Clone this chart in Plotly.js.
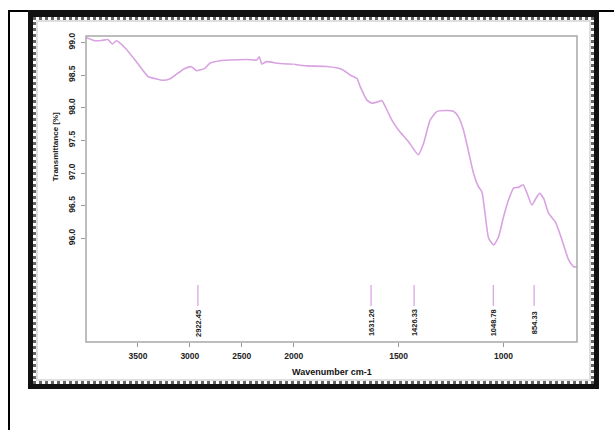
<!DOCTYPE html>
<html>
<head>
<meta charset="utf-8">
<script src="https://cdn.plot.ly/plotly-3.0.1.min.js"></script>
<style>
  html, body { margin: 0; padding: 0; background: #fff; width: 614px; height: 430px; overflow: hidden; }
  .box { position: absolute; box-sizing: border-box; }
  #outer { left: 8px; top: 10px; width: 606px; height: 420px; border-left: 2px solid #000; border-top: 2px solid #000; }
  #frame { left: 28px; top: 10px; width: 571px; height: 379px; border: 5px solid #111; border-top-width: 7px; }
  #dots { left: 33px; top: 17px; width: 561px; height: 367px; border: 3px dotted #666; }
  #shade { left: 36px; top: 20px; width: 555px; height: 361px; border: 2px solid #dedede; }
  #chart { position: absolute; left: 0; top: 0; width: 614px; height: 430px; }
</style>
</head>
<body>
<div class="box" id="outer"></div>
<div class="box" id="frame"></div>
<div class="box" id="dots"></div>
<div class="box" id="shade"></div>
<div id="chart"></div>
<script>
// Wavenumber (cm-1) and transmittance (%)
const wavenumber = [4000,3918,3850,3790,3747,3708,3677,3612,3515,3403,3322,3258,3194,3145,3049,2984,2936,2904,2856,2807,2711,2614,2453,2356,2331,2308,2260,2150,2000,
  1938,1843,1771,1731,1699,1684,1652,1628,1598,1580,1564,1532,1501,1453,1406,1381,1350,1318,1278,1239,1215,1191,1167,1143,1121,1103,1090,1071,1047,1024,1000,
  976,952,928,907,888,865,844,828,809,785,753,721,690,666,650];
const transmittance = [99.075,99.026,99.03,99.044,98.975,99.026,98.995,98.894,98.704,98.478,98.44,98.42,98.44,98.493,98.60,98.628,98.567,98.577,98.603,98.68,98.72,98.73,98.738,98.73,98.78,98.67,98.705,98.68,98.665,
  98.64,98.63,98.59,98.50,98.45,98.33,98.12,98.07,98.09,98.11,98.02,97.81,97.66,97.48,97.28,97.455,97.81,97.94,97.957,97.946,97.86,97.66,97.33,96.995,96.80,96.71,96.43,96.0,95.90,96.02,96.33,
  96.59,96.77,96.78,96.82,96.69,96.51,96.62,96.69,96.61,96.38,96.25,95.97,95.67,95.565,95.565];

// Peak labels
const peaks = [2922.45, 1631.26, 1426.33, 1048.78, 854.33];
const peakLabels = ["2922.45", "1631.26", "1426.33", "1048.78", "854.33"];

// Axis ticks
const xTicksHigh = [3500, 3000, 2500, 2000];
const xTicksLow = [1500, 1000];
const yTicks = [96.0, 96.5, 97.0, 97.5, 98.0, 98.5, 99.0];
const yTickText = ["96.0", "96.5", "97.0", "97.5", "98.0", "98.5", "99.0"];

const xTitle = "Wavenumber cm-1";
const yTitle = "Transmittance [%]";

const BREAK = 2000;
const hi = { x: [], y: [] }, lo = { x: [], y: [] };
wavenumber.forEach((w, i) => {
  if (w >= BREAK) { hi.x.push(w); hi.y.push(transmittance[i]); }
  if (w <= BREAK) { lo.x.push(w); lo.y.push(transmittance[i]); }
});

const lineStyle = { color: '#d9a2e2', width: 1.6, shape: 'spline', smoothing: 0.5 };
const traces = [
  { x: hi.x, y: hi.y, type: 'scatter', mode: 'lines', line: lineStyle, xaxis: 'x', yaxis: 'y', hoverinfo: 'skip' },
  { x: lo.x, y: lo.y, type: 'scatter', mode: 'lines', line: lineStyle, xaxis: 'x2', yaxis: 'y', hoverinfo: 'skip' }
];

const SPLIT = 0.423;
const FONT = 'Liberation Sans, Arial, sans-serif';
const tickFont = { family: FONT, size: 8.5, color: '#222', weight: 'bold' };

const shapes = [
  { type: 'rect', xref: 'paper', yref: 'paper', x0: 0, x1: 1, y0: 0, y1: 1, line: { color: '#a8a8a8', width: 1.5 } }
];
const annotations = [];
peaks.forEach((p, i) => {
  const ref = p >= BREAK ? 'x' : 'x2';
  shapes.push({ type: 'line', xref: ref, yref: 'paper', x0: p, x1: p, y0: 0.118, y1: 0.186, line: { color: '#dba6e4', width: 1.3 } });
  annotations.push({ xref: ref, yref: 'paper', x: p, y: 0.062, text: peakLabels[i], showarrow: false, textangle: -90,
    xanchor: 'center', yanchor: 'middle', font: { family: FONT, size: 7.5, color: '#222', weight: 'bold' } });
});
annotations.push({ xref: 'paper', yref: 'paper', x: 0.5, y: -0.098, text: xTitle, showarrow: false,
  xanchor: 'center', yanchor: 'middle', font: { family: FONT, size: 9, color: '#111', weight: 'bold' } });
annotations.push({ xref: 'paper', yref: 'paper', x: -0.063, y: 0.637, text: yTitle, showarrow: false, textangle: -90,
  xanchor: 'center', yanchor: 'middle', font: { family: FONT, size: 8, color: '#222', weight: 'bold' } });

const commonX = {
  showgrid: false, zeroline: false, showline: false, ticks: 'outside', ticklen: 4, tickwidth: 1, tickcolor: '#999',
  tickfont: tickFont, anchor: 'y', fixedrange: true, ticklabelstandoff: 2
};

const layout = {
  width: 614, height: 430,
  margin: { l: 86, r: 37, t: 36, b: 88, pad: 0 },
  paper_bgcolor: 'rgba(0,0,0,0)',
  plot_bgcolor: '#ffffff',
  showlegend: false,
  xaxis: Object.assign({}, commonX, { domain: [0, SPLIT], range: [4000, BREAK], tickmode: 'array', tickvals: xTicksHigh, ticktext: xTicksHigh.map(String) }),
  xaxis2: Object.assign({}, commonX, { domain: [SPLIT, 1], range: [BREAK, 650], tickmode: 'array', tickvals: xTicksLow, ticktext: xTicksLow.map(String) }),
  yaxis: {
    domain: [0, 1], range: [94.412, 99.098], showgrid: false, zeroline: false, showline: false,
    ticks: 'outside', ticklen: 4, tickwidth: 1, tickcolor: '#999', tickmode: 'array', tickvals: yTicks, ticktext: yTickText,
    tickangle: -90, tickfont: tickFont, anchor: 'x', fixedrange: true, ticklabelstandoff: 3
  },
  shapes: shapes,
  annotations: annotations
};

Plotly.newPlot('chart', traces, layout, { staticPlot: true, displayModeBar: false });
</script>
</body>
</html>
